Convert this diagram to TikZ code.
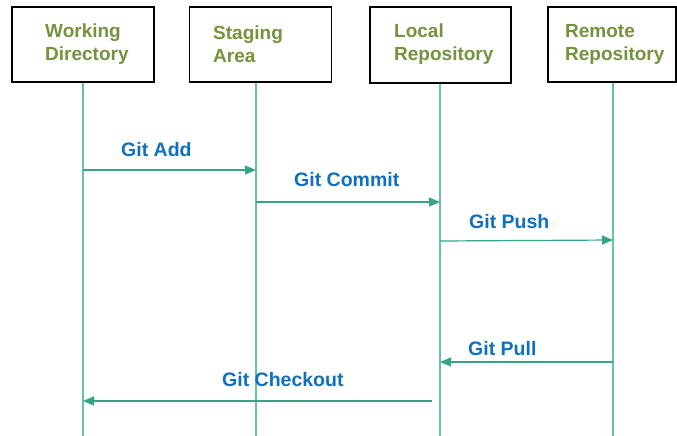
\documentclass[tikz,border=0pt]{standalone}
\usepackage{fontspec}
\setmainfont{Liberation Sans}
\usetikzlibrary{arrows.meta}
\definecolor{boxgreen}{RGB}{118,146,60}
\definecolor{labelblue}{RGB}{16,112,192}
\definecolor{lifeteal}{RGB}{100,196,170}
\definecolor{msgteal}{RGB}{52,166,134}
\tikzset{
  box/.style={draw=black, line width=1.5pt, minimum width=142pt, minimum height=75pt, inner sep=0pt},
  boxtext/.style={anchor=west, align=left, text=boxgreen, inner sep=0pt,
    font=\fontsize{19}{23}\selectfont\bfseries},
  lifeline/.style={draw=lifeteal, line width=1.2pt},
  msg/.style={draw=msgteal, line width=1.2pt, -{Triangle[length=11pt,width=9pt]}},
  msglabel/.style={anchor=base west, text=labelblue, inner sep=0pt,
    font=\fontsize{19.5}{23}\selectfont\bfseries}
}
\begin{document}
\begin{tikzpicture}[x=1pt,y=-1pt]
  \useasboundingbox (0,0) rectangle (677,436);
  \fill[white] (0,0) rectangle (677,436);

  % participants
  \node[box] (wd) at (83,44.5) {};
  \node[box] (sa) at (260.5,44.5) {};
  \node[box, minimum width=141pt, minimum height=76pt] (lr) at (440.5,45) {};
  \node[box, minimum width=128pt] (rr) at (612,44.5) {};

  \node[boxtext] (wdt) at (45,44.5) {Working\\Directory};
  \node[boxtext] (sat) at (213,44.5) {Staging\\Area};
  \node[boxtext] (lrt) at (394,44.5) {Local\\Repository};
  \node[boxtext] (rrt) at (565,44.5) {Remote\\Repository};

  % lifelines
  \coordinate (wdb) at (83,436);
  \coordinate (sab) at (256,436);
  \coordinate (lrb) at (440,436);
  \coordinate (rrb) at (613,436);
  \draw[lifeline] (wd.south -| wdb) -- (wdb);
  \draw[lifeline] (sa.south -| sab) -- (sab);
  \draw[lifeline] (lr.south -| lrb) -- (lrb);
  \draw[lifeline] (rr.south -| rrb) -- (rrb);

  % message end points on the lifelines
  \coordinate (add1) at (83,170);
  \coordinate (add2) at (256,170);
  \coordinate (com1) at (256,202);
  \coordinate (com2) at (440,202);
  \coordinate (push1) at (440,241);
  \coordinate (push2) at (613,240);
  \coordinate (pull1) at (613,362);
  \coordinate (pull2) at (440,362);
  \coordinate (co1) at (432,401);
  \coordinate (co2) at (83,401);

  % messages
  \draw[msg] (add1) -- (add2);
  \draw[msg] (com1) -- (com2);
  \draw[msg] (push1) -- (push2);
  \draw[msg] (pull1) -- (pull2);
  \draw[msg] (co1) -- (co2);

  \node[msglabel] (addl) at (121,156.7) {Git Add};
  \node[msglabel] (coml) at (294,186) {Git Commit};
  \node[msglabel] (pushl) at (469,228) {Git Push};
  \node[msglabel] (pulll) at (468,355) {Git Pull};
  \node[msglabel] (col) at (222,386.7) {Git Checkout};
\end{tikzpicture}
\end{document}
